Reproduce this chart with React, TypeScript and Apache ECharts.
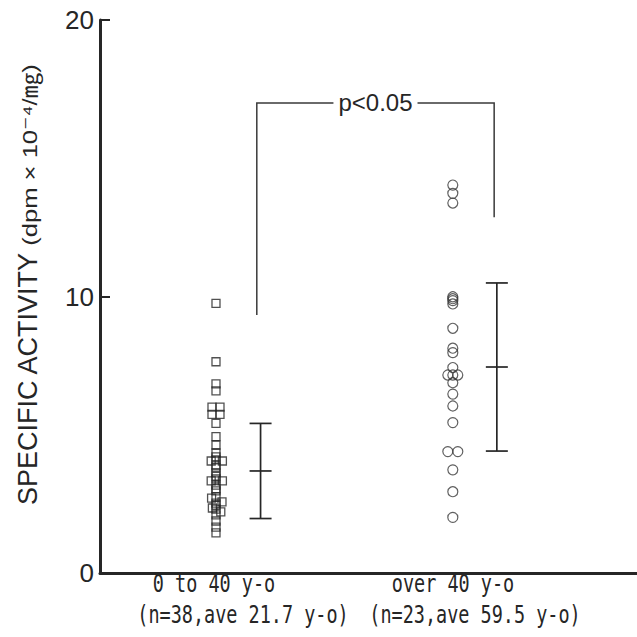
import React, { useEffect, useRef } from "react";
import * as echarts from "echarts";

// ---- data ----
const yTicks = [0, 10, 20];
const groupLabels = ["0 to 40 y-o", "over 40 y-o"];
const groupNotes = ["(n=38,ave 21.7 y-o)", "(n=23,ave 59.5 y-o)"];
const yTitle = "SPECIFIC ACTIVITY";
const yUnit = "(dpm × 10⁻⁴/㎎)";
const pLabel = "p<0.05";

// hidden horizontal scale 0..10 spanning the plot
const groupX = [2.16, 6.57];
const errorX = [2.99, 7.39];

// 0 to 40 y-o (squares), jitter in marker widths
const youngValues = [
  9.75, 7.64, 6.84, 6.59, 6.0, 6.0, 5.74, 5.74, 5.41, 4.93, 4.63, 4.34, 4.2,
  4.09, 4.05, 4.05, 3.9, 3.83, 3.62, 3.5, 3.4, 3.33, 3.33, 3.18, 3.05, 2.97,
  2.75, 2.71, 2.57, 2.53, 2.45, 2.35, 2.31, 2.21, 2.1, 1.88, 1.66, 1.45,
];
const youngJitter = [
  0, 0, 0, 0, -0.5, 0.5, -0.5, 0.5, 0, 0, 0, 0, 0,
  0, -0.6, 0.8, 0, 0, 0, 0, 0, -0.6, 0.8, 0, 0, 0,
  0, -0.55, 0.75, 0, 0, -0.45, 0, 0.6, 0, 0, 0, 0,
];

// over 40 y-o (circles)
const oldValues = [
  14.03, 13.73, 13.38, 9.99, 9.92, 9.85, 9.73, 8.85, 8.13, 7.97, 7.43, 7.16,
  7.16, 7.16, 6.88, 6.47, 6.04, 5.44, 4.39, 4.39, 3.73, 2.94, 2.01,
];
const oldJitter = [
  0, 0, 0, 0, 0, 0, 0, 0, 0, 0, 0, -0.5,
  0.5, 0, 0, 0, 0, 0, -0.5, 0.5, 0, 0, 0,
];

const means = [3.69, 7.45];
const sds = [1.72, 3.04];

// significance bracket: x ends, y of left foot, top, right foot
const bracketX = [2.92, 7.34];
const bracketY = [9.33, 17.0, 12.87];

const ink = "#262626";
const SQ = 8;
const CI = 10;
const PX_PER_UNIT = 53.7;

export default function App() {
  const ref = useRef<HTMLDivElement>(null);
  useEffect(() => {
    if (!ref.current) return;
    const chart = echarts.init(ref.current, undefined, { renderer: "svg" });

    const squareData = youngValues.map((v, i) => [
      groupX[0] + (youngJitter[i] * SQ) / PX_PER_UNIT,
      v,
    ]);
    const circleData = oldValues.map((v, i) => [
      groupX[1] + (oldJitter[i] * CI) / PX_PER_UNIT,
      v,
    ]);
    const errData = means.map((m, i) => [errorX[i], m, sds[i]]);

    const catFont = "DejaVu Sans Mono";
    const mkText = (t: string, x: number, y: number) => ({
      type: "text",
      x,
      y,
      scaleY: 1.33,
      style: {
        text: t,
        fontSize: 18.5,
        fontFamily: catFont,
        fill: ink,
        textAlign: "center",
        textVerticalAlign: "middle",
        align: "center",
        verticalAlign: "middle",
      },
    });
    const line1X = [214, 453];
    const line2X = [243, 475];
    const catTexts: any[] = [
      ...groupLabels.map((t, i) => mkText(t, line1X[i], 584)),
      ...groupNotes.map((t, i) => mkText(t, line2X[i], 615)),
    ];

    chart.setOption({
      animation: false,
      backgroundColor: "#ffffff",
      grid: {
        left: 100,
        right: 0,
        top: 20,
        bottom: 64,
        containLabel: false,
        outerBoundsMode: "none",
      },
      xAxis: {
        type: "value",
        min: 0,
        max: 10,
        axisLine: { show: true, lineStyle: { color: ink, width: 3 } },
        axisTick: { show: false },
        axisLabel: { show: false },
        splitLine: { show: false },
        axisPointer: { show: false },
      },
      yAxis: {
        type: "value",
        min: yTicks[0],
        max: yTicks[yTicks.length - 1],
        interval: yTicks[1] - yTicks[0],
        axisLine: { show: true, lineStyle: { color: ink, width: 3 } },
        axisTick: {
          show: true,
          inside: true,
          length: 10,
          lineStyle: { color: ink, width: 2 },
        },
        axisLabel: {
          show: true,
          margin: 6,
          fontSize: 26,
          fontFamily: "Liberation Sans Narrow, Liberation Sans, Arial",
          color: ink,
        },
        splitLine: { show: false },
      },
      graphic: [
        {
          type: "text",
          x: 28,
          y: 379,
          rotation: Math.PI / 2,
          style: {
            text: yTitle,
            fontSize: 27,
            fontFamily: "Liberation Sans, Arial",
            fill: ink,
            textAlign: "center",
            textVerticalAlign: "middle",
            align: "center",
            verticalAlign: "middle",
          },
        },
        {
          type: "text",
          x: 30,
          y: 155,
          rotation: Math.PI / 2,
          scaleX: 1.22,
          style: {
            text: yUnit,
            fontSize: 21,
            fontFamily: "Liberation Sans, DejaVu Sans, Noto Sans CJK JP",
            fill: ink,
            textAlign: "center",
            textVerticalAlign: "middle",
            align: "center",
            verticalAlign: "middle",
          },
        },
        ...catTexts,
      ],
      series: [
        {
          type: "scatter",
          data: squareData,
          symbol: "rect",
          symbolSize: SQ,
          itemStyle: {
            color: "rgba(255,255,255,0)",
            borderColor: ink,
            borderWidth: 1.3,
          },
          z: 3,
        },
        {
          type: "scatter",
          data: circleData,
          symbol: "circle",
          symbolSize: CI,
          itemStyle: {
            color: "rgba(255,255,255,0)",
            borderColor: "#3a3a3a",
            borderWidth: 1.2,
          },
          z: 3,
        },
        {
          type: "custom",
          data: errData,
          encode: { x: 0, y: [1, 2] },
          clip: true,
          renderItem: (params: any, api: any) => {
            const x = api.value(0);
            const m = api.value(1);
            const s = api.value(2);
            const top = api.coord([x, m + s]);
            const mid = api.coord([x, m]);
            const bot = api.coord([x, m - s]);
            const hw = 11;
            const style = { stroke: ink, lineWidth: 1.7, fill: null };
            const h = (p: number[]) => ({
              type: "line",
              shape: { x1: p[0] - hw, y1: p[1], x2: p[0] + hw, y2: p[1] },
              style,
            });
            return {
              type: "group",
              children: [
                {
                  type: "line",
                  shape: { x1: top[0], y1: top[1], x2: bot[0], y2: bot[1] },
                  style,
                },
                h(top),
                h(mid),
                h(bot),
              ],
            };
          },
          z: 2,
        },
        {
          type: "custom",
          data: [[bracketX[0], bracketX[1], bracketY[0], bracketY[1], bracketY[2]]],
          encode: { x: [0, 1], y: [2, 3, 4] },
          renderItem: (params: any, api: any) => {
            const x1 = api.value(0);
            const x2 = api.value(1);
            const yl = api.value(2);
            const yt = api.value(3);
            const yr = api.value(4);
            const p1 = api.coord([x1, yl]);
            const p2 = api.coord([x1, yt]);
            const p3 = api.coord([x2, yt]);
            const p4 = api.coord([x2, yr]);
            return {
              type: "group",
              children: [
                {
                  type: "polyline",
                  shape: { points: [p1, p2, p3, p4] },
                  style: { stroke: "#3a3a3a", lineWidth: 1.5, fill: null },
                },
                {
                  type: "text",
                  x: (p2[0] + p3[0]) / 2,
                  y: p2[1],
                  style: {
                    text: pLabel,
                    fontSize: 24,
                    fontFamily: "Liberation Sans, Arial",
                    fill: ink,
                    align: "center",
                    verticalAlign: "middle",
                    textAlign: "center",
                    textVerticalAlign: "middle",
                    backgroundColor: "#ffffff",
                    padding: [2, 5],
                  },
                },
              ],
            };
          },
          z: 2,
        },
      ],
    });
    return () => chart.dispose();
  }, []);
  return (
    <div
      ref={ref}
      style={{
        position: "fixed",
        left: 0,
        top: 0,
        width: 637,
        height: 637,
        overflow: "hidden",
      }}
    />
  );
}
